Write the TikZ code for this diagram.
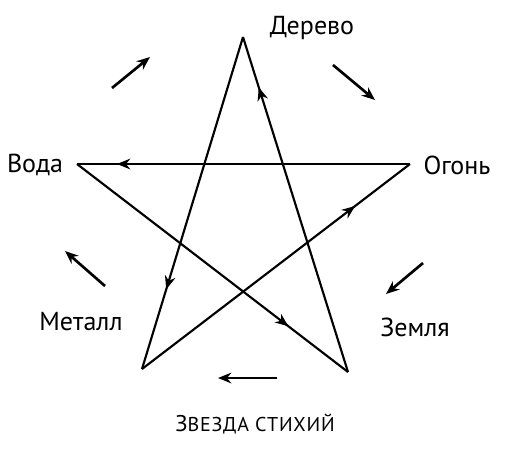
\documentclass[tikz,border=0pt]{standalone}
\usepackage{fontspec}
\setmainfont{PT Sans}
\usetikzlibrary{arrows.meta,decorations.markings}

\tikzset{
  star line/.style={line width=1.6pt},
  flow/.style={line width=2pt,-{Stealth[length=10pt,width=8pt]}},
  mid arrow/.style={postaction={decorate},decoration={markings,
      mark=at position #1 with {\arrow{Stealth[length=10pt,width=8pt]}}}},
  element/.style={inner sep=0.75pt,font=\fontsize{19.5}{22}\selectfont},
}

\begin{document}
\begin{tikzpicture}[x=0.75pt,y=0.75pt,yscale=-1,xscale=1]
\useasboundingbox (0,0) rectangle (505,451);

        % star corners
        \coordinate (top) at (243,37);
        \coordinate (fire) at (410,164);
        \coordinate (earthc) at (348,372);
        \coordinate (metalc) at (142,369);
        \coordinate (water) at (77,164);

        % star with the inner arrows
        \draw[star line,mid arrow=0.88] (fire) -- (water);
        \draw[star line,mid arrow=0.76] (top) -- (metalc);
        \draw[star line,mid arrow=0.85] (earthc) -- (top);
        \draw[star line,mid arrow=0.78] (water) -- (earthc);
        \draw[star line,mid arrow=0.795] (metalc) -- (fire);

        % labels
        \node[element] (wood) at (312,28) {Дерево};
        \node[element] (fireL) at (457,165) {Огонь};
        \node[element] (earth) at (415,327) {Земля};
        \node[element] (metal) at (81,322) {Металл};
        \node[element] (waterL) at (35,165) {Вода};
        \node[element,font=\fontsize{17}{20}\selectfont] (title) at (255,424)
          {З{\fontsize{15}{17}\selectfont\addfontfeature{LetterSpace=4}ВЕЗДА СТИХИЙ}};

        % outer arrows
        \coordinate (a1) at (112,88);  \coordinate (b1) at (150,57);
        \coordinate (a2) at (333,65);  \coordinate (b2) at (375,100);
        \coordinate (a3) at (423,263); \coordinate (b3) at (386,294);
        \coordinate (a4) at (277,378); \coordinate (b4) at (218,378);
        \coordinate (a5) at (105,286); \coordinate (b5) at (65,251);
        \foreach \i in {1,...,5}
          \draw[flow] (a\i) -- (b\i);
\end{tikzpicture}
\end{document}
